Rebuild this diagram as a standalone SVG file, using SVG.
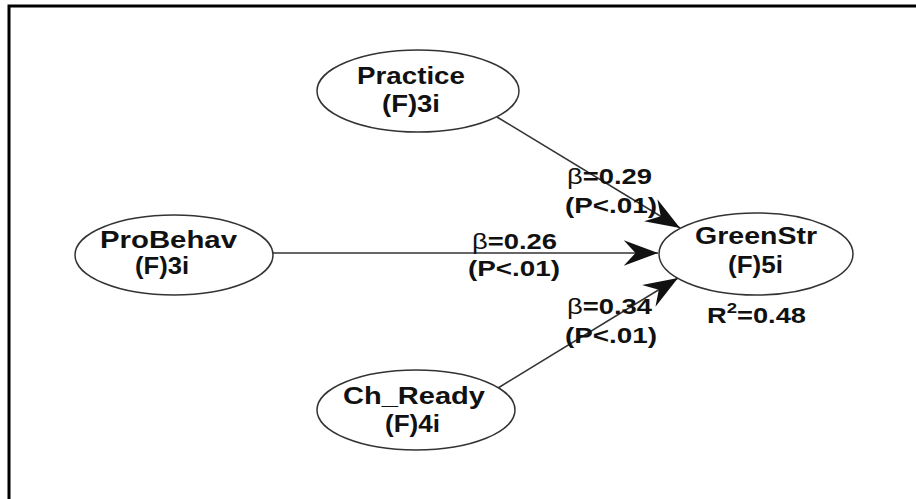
<svg xmlns="http://www.w3.org/2000/svg" width="916" height="499" viewBox="0 0 916 499">
<style>
.node ellipse{fill:#fff;stroke:#333;stroke-width:1.5}
.t{font-family:"Liberation Sans",Arial,sans-serif;font-weight:bold;font-size:24px;fill:#111}
.l{font-family:"Liberation Sans",Arial,sans-serif;font-weight:bold;font-size:22px;fill:#111}
.b{font-weight:normal}
.edge{stroke:#333;stroke-width:1.5;fill:none}
</style>
<defs>
<marker id="arr" markerUnits="userSpaceOnUse" markerWidth="40" markerHeight="30" viewBox="-34 -14 36 28" refX="0" refY="0" orient="auto">
<path d="M0,0 L-32,-12 L-21,0 L-32,12 Z" fill="#111"/>
</marker>
</defs>
<rect width="916" height="499" fill="#fff"/>
<path d="M9,499 V6 H916" fill="none" stroke="#000" stroke-width="3"/>
<g id="connectors">
<line class="edge" x1="497" y1="117" x2="680" y2="228" marker-end="url(#arr)"/>
<line class="edge" x1="273" y1="253" x2="658" y2="253" marker-end="url(#arr)"/>
<line class="edge" x1="498" y1="388" x2="678" y2="278" marker-end="url(#arr)"/>
</g>
<g id="labels">
<text class="l" x="567" y="184" textLength="85" lengthAdjust="spacingAndGlyphs"><tspan class="b">β</tspan>=0.29</text>
<text class="l" x="565" y="213" textLength="92" lengthAdjust="spacingAndGlyphs">(P&lt;.01)</text>
<text class="l" x="472" y="249" textLength="85" lengthAdjust="spacingAndGlyphs"><tspan class="b">β</tspan>=0.26</text>
<text class="l" x="468" y="276" textLength="92" lengthAdjust="spacingAndGlyphs">(P&lt;.01)</text>
<text class="l" x="567" y="314" textLength="85" lengthAdjust="spacingAndGlyphs"><tspan class="b">β</tspan>=0.34</text>
<text class="l" x="565" y="343" textLength="92" lengthAdjust="spacingAndGlyphs">(P&lt;.01)</text>
</g>
<g id="node-practice" class="node">
<ellipse cx="418" cy="91" rx="101" ry="41"/>
<text class="t" x="357" y="84" textLength="108" lengthAdjust="spacingAndGlyphs">Practice</text>
<text class="t" x="382" y="112" textLength="58" lengthAdjust="spacingAndGlyphs">(F)3i</text>
</g>
<g id="node-probehav" class="node">
<ellipse cx="174" cy="255" rx="99" ry="40"/>
<text class="t" x="100" y="248" textLength="137" lengthAdjust="spacingAndGlyphs">ProBehav</text>
<text class="t" x="135" y="274" textLength="54" lengthAdjust="spacingAndGlyphs">(F)3i</text>
</g>
<g id="node-chready" class="node">
<ellipse cx="416" cy="410" rx="99" ry="40"/>
<text class="t" x="343" y="404" textLength="142" lengthAdjust="spacingAndGlyphs">Ch_Ready</text>
<text class="t" x="385" y="432" textLength="55" lengthAdjust="spacingAndGlyphs">(F)4i</text>
</g>
<g id="node-greenstr" class="node">
<ellipse cx="756" cy="254" rx="97" ry="41"/>
<text class="t" x="695" y="244" textLength="122" lengthAdjust="spacingAndGlyphs">GreenStr</text>
<text class="t" x="728" y="273" textLength="55" lengthAdjust="spacingAndGlyphs">(F)5i</text>
<text class="l" x="707" y="323" textLength="99" lengthAdjust="spacingAndGlyphs">R<tspan dy="-10" font-size="15">2</tspan><tspan dy="10">=0.48</tspan></text>
</g>
</svg>
